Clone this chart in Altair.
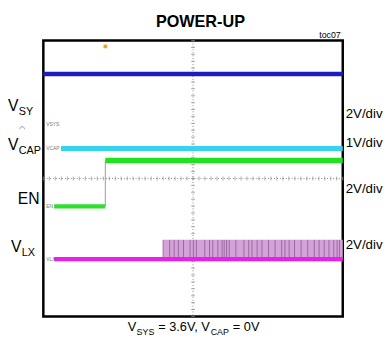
import altair as alt
import pandas as pd

# ---- data (in scope divisions: x 0..10, y 0..8) ----
vsys_x = [0.0, 10.0]
vsys_y = [7.03, 7.03]
vcap_x = [0.59, 10.0]
vcap_y = [4.87, 4.87]
en_low_x = [0.36, 2.07]
en_low_y = [3.19, 3.19]
en_high_x = [2.07, 10.0]
en_high_y = [4.52, 4.52]
lx_x = [0.36, 10.0]
lx_y = [1.66, 1.66]
lx_burst_x = [4.0, 10.0]
lx_burst_top = 2.22
lx_pulse_x = [4.0, 4.22, 4.37, 4.51, 4.68, 4.90, 5.01, 5.11, 5.39, 5.55, 5.66,
              5.83, 5.97, 6.04, 6.12, 6.21, 6.43, 6.70, 6.86, 6.97, 7.14, 7.30,
              7.52, 7.74, 7.96, 8.07, 8.21, 8.39, 8.61, 8.83, 9.05, 9.21, 9.38,
              9.54, 9.70, 9.81, 9.89]
trigger_x = [2.07]
trigger_y = [7.83]
trace_tags = ["VSYS", "VCAP", "EN", "VLX"]
trace_tag_y = [5.59, 4.87, 3.19, 1.66]
scales = ["2V/div", "1V/div", "2V/div", "2V/div"]

W, H = 305, 281
OX, OY = 44, 38
FONT = "Liberation Sans, Arial, sans-serif"

xs = alt.Scale(domain=[0, 10], nice=False, zero=False)
ys = alt.Scale(domain=[0, 8], nice=False, zero=False)


def seg(xa, ya, color, width):
    df = pd.DataFrame({"x": [xa[0]], "x2": [xa[1]], "y": [ya[0]]})
    return alt.Chart(df).mark_rule(color=color, strokeWidth=width).encode(
        x=alt.X("x:Q", scale=xs, axis=None), x2="x2:Q", y=alt.Y("y:Q", scale=ys, axis=None))


def label(text, px, py, size, color="black", align="left", baseline="alphabetic", weight="normal"):
    df = pd.DataFrame({"t": [text]})
    return alt.Chart(df).mark_text(
        align=align, baseline=baseline, fontSize=size, font=FONT, color=color, fontWeight=weight
    ).encode(x=alt.value(px - OX), y=alt.value(py - OY), text="t:N")


# grid
grid = alt.Chart(pd.DataFrame({"x": [0], "y": [0]})).mark_point(opacity=0).encode(
    x=alt.X("x:Q", scale=xs, axis=alt.Axis(values=list(range(11)), grid=True, labels=False,
                                          ticks=False, domain=False, title=None,
                                          gridDash=[1, 3], gridColor="#c4c4c4", gridWidth=1)),
    y=alt.Y("y:Q", scale=ys, axis=alt.Axis(values=list(range(9)), grid=True, labels=False,
                                          ticks=False, domain=False, title=None,
                                          gridDash=[1, 3], gridColor="#c4c4c4", gridWidth=1)),
)

tick_pos_x = [i / 5 for i in range(51)]
tick_pos_y = [i / 5 for i in range(41)]
cx = alt.Chart(pd.DataFrame({"x": tick_pos_x, "y": [4] * len(tick_pos_x)})).mark_tick(
    orient="vertical", size=4, thickness=1, color="#8a8a8a").encode(
    x=alt.X("x:Q", scale=xs, axis=None), y=alt.Y("y:Q", scale=ys, axis=None))
cy = alt.Chart(pd.DataFrame({"x": [5] * len(tick_pos_y), "y": tick_pos_y})).mark_tick(
    orient="horizontal", size=4, thickness=1, color="#8a8a8a").encode(
    x=alt.X("x:Q", scale=xs, axis=None), y=alt.Y("y:Q", scale=ys, axis=None))
center_h = alt.Chart(pd.DataFrame({"y": [4]})).mark_rule(color="#8a8a8a", strokeDash=[1, 2]).encode(
    y=alt.Y("y:Q", scale=ys, axis=None))
center_v = alt.Chart(pd.DataFrame({"x": [5]})).mark_rule(color="#8a8a8a", strokeDash=[1, 2]).encode(
    x=alt.X("x:Q", scale=xs, axis=None))

# LX burst
burst = alt.Chart(pd.DataFrame({"x": [lx_burst_x[0]], "x2": [lx_burst_x[1]],
                                "y": [lx_y[0]], "y2": [lx_burst_top]})).mark_rect(
    color="#d4a2d8", opacity=1).encode(
    x=alt.X("x:Q", scale=xs, axis=None), x2="x2:Q", y=alt.Y("y:Q", scale=ys, axis=None), y2="y2:Q")
pulses = alt.Chart(pd.DataFrame({"x": lx_pulse_x, "y": [lx_y[0]] * len(lx_pulse_x),
                                 "y2": [lx_burst_top] * len(lx_pulse_x)})).mark_rule(
    color="#8a5c90", strokeWidth=0.8).encode(
    x=alt.X("x:Q", scale=xs, axis=None), y=alt.Y("y:Q", scale=ys, axis=None), y2="y2:Q")

vsys = seg(vsys_x, vsys_y, "#1c1cc0", 4.5)
vcap = seg(vcap_x, vcap_y, "#35d3ee", 5)
en_low = seg(en_low_x, en_low_y, "#2ee02e", 4.5)
en_high = seg(en_high_x, en_high_y, "#22e022", 5.5)
en_edge = alt.Chart(pd.DataFrame({"x": [en_low_x[1]], "y": [en_low_y[0]], "y2": [en_high_y[0]]})).mark_rule(
    color="#9a9a9a", strokeWidth=1).encode(
    x=alt.X("x:Q", scale=xs, axis=None), y=alt.Y("y:Q", scale=ys, axis=None), y2="y2:Q")
lx = seg(lx_x, lx_y, "#ea1fea", 4.5)

trig = alt.Chart(pd.DataFrame({"x": trigger_x, "y": trigger_y})).mark_square(
    size=14, color="#f0a030", opacity=1).encode(
    x=alt.X("x:Q", scale=xs, axis=None), y=alt.Y("y:Q", scale=ys, axis=None))

tags = alt.Chart(pd.DataFrame({"t": trace_tags, "y": trace_tag_y})).mark_text(
    align="left", baseline="middle", fontSize=5, color="#777777", font=FONT, dx=1).encode(
    x=alt.value(2), y=alt.Y("y:Q", scale=ys, axis=None), text="t:N")

texts = [
    label("POWER-UP", 204, 24, 16.5, align="center", weight="bold"),
    label("toc07", 347, 35, 9, align="right"),
    # left labels
    label("V", 8, 110, 16), label("SY", 19, 114, 11),
    label("◠", 19, 130, 7),
    label("V", 8, 150, 16), label("CAP", 19, 154, 11),
    label("EN", 18, 205, 16),
    label("V", 11, 253, 16), label("LX", 22, 257, 11),
    # right scale labels
    label(scales[0], 352, 113, 13.5, baseline="middle"),
    label(scales[1], 352, 142, 13.5, baseline="middle"),
    label(scales[2], 352, 189, 13.5, baseline="middle"),
    label(scales[3], 352, 246, 13.5, baseline="middle"),
    # bottom caption
    label("V", 130, 334, 13), label("SYS", 139, 338, 9),
    label("= 3.6V, V", 161, 334, 13), label("CAP", 214.5, 338, 9),
    label("= 0V", 237, 334, 13),
]

chart = alt.layer(
    grid, center_h, center_v, cx, cy, burst, pulses, vsys, vcap, en_low, en_edge, en_high, lx,
    trig, tags, *texts
).properties(
    width=W, height=H,
    autosize=alt.AutoSizeParams(type="none"),
    padding={"left": 36, "top": 30, "right": 41, "bottom": 27},
).configure_view(stroke="black", strokeWidth=2.5)

chart.save("out.html", embed_options={"renderer": "svg", "actions": False})
